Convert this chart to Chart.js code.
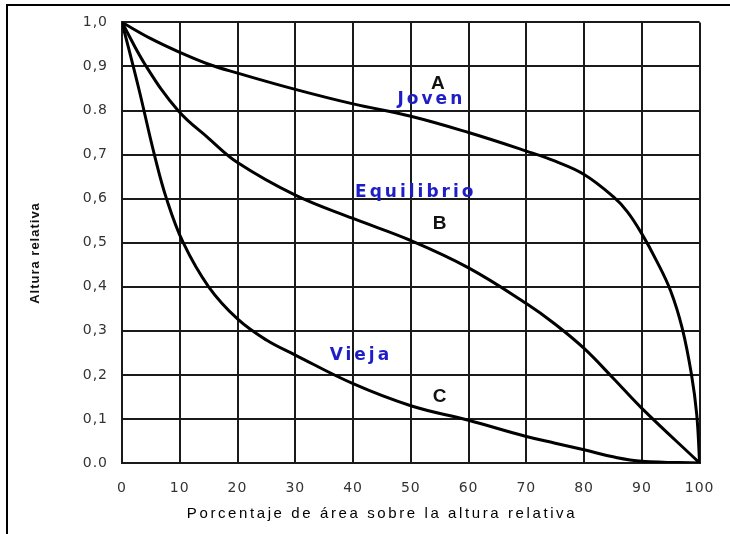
<!DOCTYPE html>
<html>
<head>
<meta charset="utf-8">
<script src="https://cdn.jsdelivr.net/npm/chart.js@4"></script>
<style>
  html, body { margin: 0; padding: 0; background: #fff; }
  #wrap { position: relative; width: 730px; height: 534px; overflow: hidden; }
  #frame { position: absolute; left: 6px; top: 4px; width: 740px; height: 540px;
           border-top: 2px solid #000; border-left: 2px solid #000; }
  #chart { position: absolute; left: 0; top: 0; }
</style>
</head>
<body>
<div id="wrap">
  <div id="frame"></div>
  <canvas id="chart" width="730" height="534"></canvas>
</div>
<script>
// curvas hipsometricas: [porcentaje de area, altura relativa]
const curveA = [[0, 1.0], [5, 0.963], [10, 0.932], [15, 0.905], [20, 0.885], [30, 0.848],
  [40, 0.815], [50, 0.787], [60, 0.75], [70, 0.708], [75, 0.685], [80, 0.655], [85, 0.605],
  [87.5, 0.57], [90, 0.52], [92.5, 0.46], [95, 0.39], [97, 0.305], [98.6, 0.2], [99.5, 0.11], [100, 0]];
const curveB = [[0, 1.0], [4.2, 0.9], [9.7, 0.8], [15, 0.737], [20, 0.682], [30, 0.608],
  [40, 0.555], [50, 0.505], [60, 0.443], [70, 0.362], [75, 0.315], [80, 0.26], [85, 0.193],
  [90, 0.124], [100, 0]];
const curveC = [[0, 1.0], [2.9, 0.85], [5.6, 0.7], [7.7, 0.6], [10.6, 0.5], [15, 0.4],
  [20, 0.327], [25, 0.279], [30, 0.245], [40, 0.18], [50, 0.13], [60, 0.097], [70, 0.06],
  [75, 0.045], [80, 0.03], [85, 0.014], [90, 0.004], [100, 0]];

const xTickLabels = ['0', '10', '20', '30', '40', '50', '60', '70', '80', '90', '100'];
const yTickLabels = ['0.0', '0,1', '0,2', '0,3', '0,4', '0,5', '0,6', '0,7', '0.8', '0,9', '1,0'];

// etiquetas dentro del grafico: [texto, x, y]
const letterLabels = [['A', 54.7, 0.863], ['B', 55.0, 0.546], ['C', 55.0, 0.152]];
const stageLabels = [['Joven', 53.3, 0.828], ['Equilibrio', 50.6, 0.617], ['Vieja', 41.1, 0.247]];

const xTitle = 'Porcentaje de área sobre la altura relativa';
const yTitle = 'Altura relativa';

const toPoints = arr => arr.map(p => ({ x: p[0], y: p[1] }));

const curveStyle = {
  borderColor: '#000',
  borderWidth: 3,
  pointRadius: 0,
  fill: false,
  tension: 0.4
};

const textPlugin = {
  id: 'textPlugin',
  beforeDraw(chart) {
    chart.ctx.letterSpacing = '1px';
  },
  afterDraw(chart) {
    const ctx = chart.ctx;
    const xs = chart.scales.x;
    const ys = chart.scales.y;
    ctx.save();
    ctx.textAlign = 'center';
    ctx.textBaseline = 'middle';

    ctx.font = 'bold 19px "Liberation Sans", Arial, sans-serif';
    ctx.fillStyle = '#111';
    ctx.letterSpacing = '0px';
    letterLabels.forEach(([t, x, y]) => {
      ctx.fillText(t, xs.getPixelForValue(x), ys.getPixelForValue(y) + 1);
    });

    ctx.font = 'bold 17px "DejaVu Sans", sans-serif';
    ctx.fillStyle = '#1e1ec8';
    ctx.letterSpacing = '3px';
    stageLabels.forEach(([t, x, y]) => {
      ctx.fillText(t, xs.getPixelForValue(x) + 1.5, ys.getPixelForValue(y) + 1);
    });

    // titulos de los ejes
    ctx.font = '15px "Liberation Sans", Arial, sans-serif';
    ctx.fillStyle = '#000';
    ctx.letterSpacing = '2.6px';
    ctx.fillText(xTitle, 382, 514);

    ctx.translate(35, 253);
    ctx.rotate(-Math.PI / 2);
    ctx.font = 'bold 13px "Liberation Sans", Arial, sans-serif';
    ctx.fillStyle = '#111';
    ctx.letterSpacing = '1px';
    ctx.fillText(yTitle, 0, 0);
    ctx.restore();
  }
};

const gridStyle = { color: '#1a1a1a', lineWidth: 2, drawTicks: false };
const tickFont = { family: '"DejaVu Sans", sans-serif', size: 14 };

new Chart(document.getElementById('chart'), {
  type: 'line',
  data: {
    datasets: [
      { label: 'A', data: toPoints(curveA), ...curveStyle },
      { label: 'B', data: toPoints(curveB), ...curveStyle },
      { label: 'C', data: toPoints(curveC), ...curveStyle }
    ]
  },
  options: {
    responsive: false,
    animation: false,
    layout: { padding: { top: 19, right: 27, left: 0, bottom: 0 } },
    plugins: {
      legend: { display: false },
      tooltip: { enabled: false }
    },
    scales: {
      x: {
        type: 'linear',
        min: 0,
        max: 100,
        grid: gridStyle,
        border: { color: '#1a1a1a', width: 2 },
        ticks: {
          stepSize: 10,
          autoSkip: false,
          maxRotation: 0,
          padding: 17,
          color: '#333',
          font: tickFont,
          callback: (v, i) => xTickLabels[i]
        },
        afterFit: s => { s.height = 71; }
      },
      y: {
        min: 0,
        max: 1,
        grid: gridStyle,
        border: { color: '#1a1a1a', width: 2 },
        ticks: {
          stepSize: 0.1,
          padding: 14,
          color: '#333',
          font: tickFont,
          callback: (v, i) => yTickLabels[i]
        },
        afterFit: s => { s.width = 122; }
      }
    }
  },
  plugins: [textPlugin]
});
</script>
</body>
</html>
